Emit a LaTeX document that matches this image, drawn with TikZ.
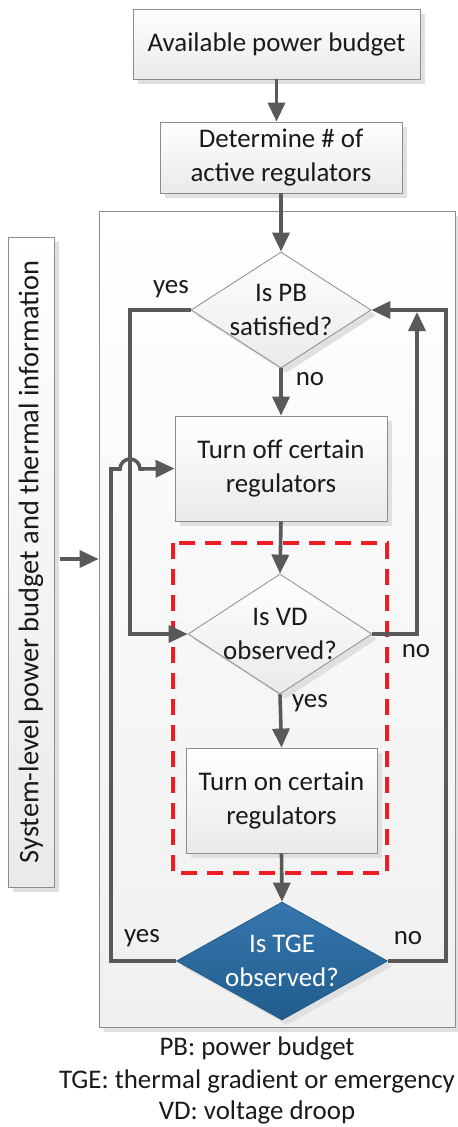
\documentclass[tikz,border=0pt]{standalone}
\usepackage{fontspec}
\setmainfont{Carlito}
\usetikzlibrary{shapes.geometric,arrows.meta,shadows}
\definecolor{ln}{HTML}{595959}
\definecolor{bd}{HTML}{8C8C8C}
\definecolor{boxg}{HTML}{EAEAEA}
\definecolor{txt}{HTML}{1A1A1A}
\definecolor{contg}{HTML}{F0F0F0}
\definecolor{redd}{HTML}{EE1C25}
\definecolor{bluet}{HTML}{3677AE}
\definecolor{blueb}{HTML}{215C8D}
\begin{document}
\begin{tikzpicture}[x=1bp,y=-1bp,
  every node/.style={font=\fontsize{27}{34}\selectfont, text=txt},
  shad/.style={drop shadow={shadow xshift=5bp, shadow yshift=-5bp, fill=black!12, opacity=1}},
  box/.style={rectangle, draw=bd, line width=0.8bp, top color=white, bottom color=boxg, shad, align=center, inner sep=0pt},
  dia/.style={diamond, draw=bd, line width=0.8bp, top color=white, bottom color=boxg, shad, inner sep=0pt},
  arr/.style={line width=3.6bp, draw=ln, -{Triangle[width=17bp,length=19bp]}},
  lbl/.style={inner sep=0pt}
]
\useasboundingbox (0,0) rectangle (458,1127);

% container
\node[rectangle, draw=bd, line width=0.8bp, top color=white, bottom color=contg, shad,
      minimum width=356bp, minimum height=816bp, inner sep=0pt] (cont) at (277,619) {};

% side box
\node[box, minimum width=46bp, minimum height=650bp] (side) at (31,562) {};
\node[rotate=90, inner sep=0pt, font=\fontsize{28.5}{34}\selectfont] (sidetxt) at (side.center) {System-level power budget and thermal information};

% main boxes
\node[box, minimum width=287bp, minimum height=70bp] (avail) at (276.5,44) {Available power budget};
\node[box, minimum width=242bp, minimum height=71bp] (determ) at (281,157.5) {Determine \# of\\active regulators};
\node[dia, minimum width=180bp, minimum height=116bp,
      label={[align=center]center:Is PB\\satisfied?}] (pb) at (281,310) {};
\node[box, minimum width=212bp, minimum height=105bp] (off) at (281,468.5) {Turn off certain\\regulators};
\node[dia, minimum width=184bp, minimum height=120bp,
      label={[align=center]center:Is VD\\observed?}] (vd) at (280,634) {};
\node[box, minimum width=191bp, minimum height=105bp] (on) at (281.5,800.5) {Turn on certain\\regulators};
\node[diamond, draw=blueb, line width=0.8bp, top color=bluet, bottom color=blueb, shad, inner sep=0pt,
      minimum width=211bp, minimum height=118bp,
      label={[align=center, text=white]center:Is TGE\\observed?}] (tge) at (282,961) {};

% red dashed region
\draw[redd, line width=4bp, dash pattern=on 16bp off 10bp] (173,543) rectangle (387,873);

% connectors
\draw[arr] (avail.south) -- (avail.south |- determ.north);
\draw[arr] (determ.south) -- (pb.north);
\draw[arr] (pb.south) -- (off.north);
\draw[arr] (off.south) -- (vd.north);
\draw[arr] (vd.south) -- (on.north);
\draw[arr] (on.south) -- (tge.north);

\coordinate (ya) at (130,310);
\draw[arr] (pb.west) -- (ya) -- (ya |- vd.west) -- (vd.west);

\coordinate (na) at (417,634);
\coordinate (nb) at (417,312);
\draw[arr] (vd.east) -- (na) -- (nb);

\coordinate (ta) at (446,961);
\draw[arr] (tge.east) -- (ta) -- (ta |- pb.east) -- (pb.east);

\coordinate (tb) at (111,961);
\coordinate (tc) at (111,469);
\coordinate (hopa) at (120,469);
\draw[arr] (tge.west) -- (tb) -- (tc) -- (hopa) arc[start angle=180, end angle=0, radius=10bp] -- (off.west);

\coordinate (sa) at (60,559);
\draw[arr] (sa) -- (sa -| cont.west);

% branch labels
\node[lbl] (l1) at (171,289) {yes};
\node[lbl] (l2) at (310,379) {no};
\node[lbl] (l3) at (416,651) {no};
\node[lbl] (l4) at (310,703) {yes};
\node[lbl] (l5) at (142,938) {yes};
\node[lbl] (l6) at (408,938) {no};

% legend
\node[lbl] (g1) at (257,1048) {PB: power budget};
\node[lbl, anchor=east] (g2) at (455,1081) {TGE: thermal gradient or emergency};
\node[lbl] (g3) at (257,1112) {VD: voltage droop};
\end{tikzpicture}
\end{document}
